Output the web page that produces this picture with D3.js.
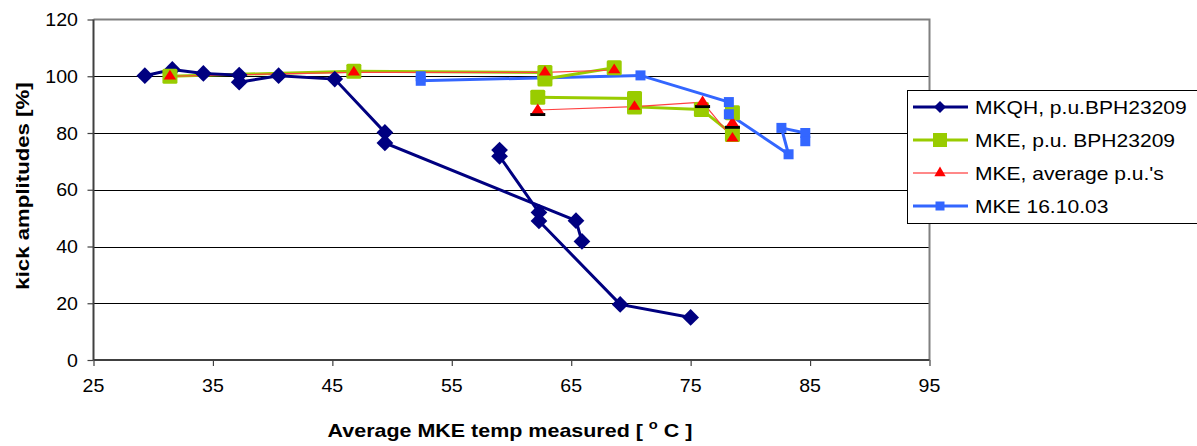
<!DOCTYPE html>
<html><head><meta charset="utf-8">
<script src="https://cdn.jsdelivr.net/npm/d3@7"></script>
<style>html,body{margin:0;padding:0;background:#fff;}svg{display:block;}</style>
</head><body>
<svg id="chart" width="1197" height="446"></svg>
<script>
// ---- data ----
const xTicks = [25, 35, 45, 55, 65, 75, 85, 95];
const yTicks = [0, 20, 40, 60, 80, 100, 120];

const mkqhX = [29.3, 31.6, 34.2, 37.2, 37.2, 40.5, 45.2, 49.4, 49.4, 65.4, 65.9, null, 59.0, 59.0, 62.3, 62.3, 69.1, 75.0];
const mkqhY = [100.2, 102.4, 101.0, 100.4, 97.9, 100.2, 99.0, 80.2, 76.5, 49.1, 41.8, null, 74.0, 71.8, 52.0, 49.0, 19.6, 15.0];

const mkePuX = [31.4, 46.8, 62.8, 62.8, 68.6, null, 62.2, 70.3, 70.3, 75.9, 78.5, 78.5];
const mkePuY = [100.0, 101.8, 101.3, 99.0, 103.0, null, 92.6, 92.2, 89.2, 88.3, 79.5, 87.1];

const mkeAvgX = [31.4, 46.8, 62.8, 68.6, null, 62.2, 70.3, 76.0, 78.5, 78.5];
const mkeAvgY = [100.0, 101.4, 101.4, 102.2, null, 88.1, 89.3, 90.9, 78.1, 83.6];

const mkeOctX = [52.4, 52.4, 70.8, 78.2, 78.2, 83.2, 82.6, 84.6, 84.6];
const mkeOctY = [100.0, 98.4, 100.3, 90.9, 86.6, 72.5, 81.8, 80.0, 77.1];

// dark marks showing beneath some triangles
const darkX = [62.2, 76.0, 78.5];
const darkY = [88.1, 90.9, 83.6];

const seriesNames = ["MKQH, p.u.BPH23209", "MKE, p.u. BPH23209", "MKE, average p.u.'s", "MKE 16.10.03"];

// ---- layout ----
const svg = d3.select("#chart");
const x = d3.scaleLinear().domain([25, 95]).range([93.5, 929.5]);
const y = d3.scaleLinear().domain([0, 120]).range([360, 19.5]);
const FONT = "'Liberation Sans', Arial, sans-serif";

function stretchedText(g, tx, ty, str, opts) {
  const t = g.append("text")
    .attr("transform", `translate(${tx},${ty})` + (opts.rot ? ` rotate(${opts.rot})` : "") + ` scale(${opts.sx || 1.12},1)`)
    .attr("font-family", FONT)
    .attr("font-size", opts.size || 17.5)
    .attr("font-weight", opts.bold ? "bold" : "normal")
    .attr("text-anchor", opts.anchor || "start")
    .attr("fill", "#000")
    .text(str);
  return t;
}

// square diamond symbol
const squareDiamond = {
  draw(ctx, size) {
    const r = Math.sqrt(size / 2);
    ctx.moveTo(0, -r); ctx.lineTo(r, 0); ctx.lineTo(0, r); ctx.lineTo(-r, 0); ctx.closePath();
  }
};

// plot area background
svg.append("rect").attr("x", x(25)).attr("y", y(120)).attr("width", x(95) - x(25)).attr("height", y(0) - y(120)).attr("fill", "#fff");

// gridlines
svg.append("g").selectAll("line").data(yTicks.filter(d => d > 0 && d < 120)).join("line")
  .attr("x1", x(25)).attr("x2", x(95))
  .attr("y1", d => Math.round(y(d)) + 0.5).attr("y2", d => Math.round(y(d)) + 0.5)
  .attr("stroke", "#000").attr("stroke-width", 1);

// top and right border
svg.append("path")
  .attr("d", `M${x(25)},${y(120)}H${x(95)}V${y(0)}`)
  .attr("fill", "none").attr("stroke", "#808080").attr("stroke-width", 2);

// axes
const xAxis = d3.axisBottom(x).tickValues(xTicks).tickSize(6).tickFormat("");
const yAxis = d3.axisLeft(y).tickValues(yTicks).tickSize(6).tickFormat("");
const gx = svg.append("g").attr("transform", `translate(0,${y(0)})`).call(xAxis);
const gy = svg.append("g").attr("transform", `translate(${x(25)},0)`).call(yAxis);
[gx, gy].forEach(g => {
  g.select(".domain").attr("stroke", "#404040").attr("stroke-width", 2);
  g.selectAll(".tick line").attr("stroke", "#404040").attr("stroke-width", 1.2);
});
gy.select(".domain").attr("d", `M0,${y(120)}V${y(0)}`);
gx.select(".domain").attr("d", `M${x(25)},0H${x(95)}`);

// tick labels
const labels = svg.append("g");
xTicks.forEach(v => stretchedText(labels, x(v), 392, String(v), {anchor: "middle"}));
yTicks.forEach(v => stretchedText(labels, 78, y(v) + 6.5, String(v), {anchor: "end"}));

// axis titles
const xt = stretchedText(labels, 510, 437, "", {anchor: "middle", bold: true, size: 19, sx: 1.13});
xt.append("tspan").text("Average MKE temp measured [ ");
xt.append("tspan").attr("font-size", 13).attr("dy", -8).text("o");
xt.append("tspan").attr("dy", 8).text(" C ]");
stretchedText(labels, 29, 186, "kick amplitudes [%]", {anchor: "middle", bold: true, size: 19, sx: 1.17, rot: -90});

// ---- series ----
function pts(xs, ys) { return xs.map((v, i) => ({x: v, y: ys[i]})); }
const lineGen = d3.line().defined(d => d.x != null && d.y != null).x(d => x(d.x)).y(d => y(d.y));

const plot = svg.append("g");
const diamond = d3.symbol().type(squareDiamond).size(140);
const triangle = d3.symbol().type(d3.symbolTriangle).size(60);

const s1 = pts(mkqhX, mkqhY);
const s2 = pts(mkePuX, mkePuY);
const s3 = pts(mkeAvgX, mkeAvgY);
const s4 = pts(mkeOctX, mkeOctY);

plot.append("path").datum(s4).attr("d", lineGen).attr("fill", "none").attr("stroke", "#3366FF").attr("stroke-width", 3);
plot.append("path").datum(s2).attr("d", lineGen).attr("fill", "none").attr("stroke", "#99CC00").attr("stroke-width", 3);
plot.append("path").datum(s3).attr("d", lineGen).attr("fill", "none").attr("stroke", "#FF4040").attr("stroke-width", 1.2);
plot.append("path").datum(s1).attr("d", lineGen).attr("fill", "none").attr("stroke", "#000080").attr("stroke-width", 3);

const def = d => d.x != null && d.y != null;
plot.append("g").selectAll("path").data(s1.filter(def)).join("path")
  .attr("transform", d => `translate(${x(d.x)},${y(d.y)})`).attr("d", diamond).attr("fill", "#000080");
plot.append("g").selectAll("rect").data(s2.filter(def)).join("rect")
  .attr("x", d => x(d.x) - 7.5).attr("y", d => y(d.y) - 7.5).attr("width", 15).attr("height", 15)
  .attr("rx", 1.5).attr("fill", "#99CC00");
plot.append("g").selectAll("rect").data(pts(darkX, darkY)).join("rect")
  .attr("x", d => x(d.x) - 7.5).attr("y", d => y(d.y) + 3).attr("width", 15).attr("height", 3).attr("fill", "#000");
plot.append("g").selectAll("path").data(s3.filter(def)).join("path")
  .attr("transform", d => `translate(${x(d.x)},${y(d.y)}) scale(1.05,0.95)`).attr("d", triangle).attr("fill", "#FF0000");
plot.append("g").selectAll("rect").data(s4.filter(def)).join("rect")
  .attr("x", d => x(d.x) - 5).attr("y", d => y(d.y) - 5).attr("width", 10).attr("height", 10).attr("fill", "#3366FF");

// ---- legend ----
const leg = svg.append("g");
leg.append("rect").attr("x", 907.5).attr("y", 90.5).attr("width", 300).attr("height", 133)
  .attr("fill", "#fff").attr("stroke", "#000").attr("stroke-width", 1);
const legColors = ["#000080", "#99CC00", "#FF6060", "#3366FF"];
const legWidths = [3, 3, 1.5, 3];
seriesNames.forEach((name, i) => {
  const cy = 107 + i * 33;
  leg.append("line").attr("x1", 913).attr("x2", 968).attr("y1", cy).attr("y2", cy)
    .attr("stroke", legColors[i]).attr("stroke-width", legWidths[i]);
  if (i === 0) leg.append("path").attr("transform", `translate(940,${cy})`).attr("d", d3.symbol().type(squareDiamond).size(72)).attr("fill", "#000080");
  if (i === 1) leg.append("rect").attr("x", 933).attr("y", cy - 7).attr("width", 14).attr("height", 14).attr("fill", "#99CC00");
  if (i === 2) leg.append("path").attr("transform", `translate(940,${cy})`).attr("d", d3.symbol().type(d3.symbolTriangle).size(55)).attr("fill", "#FF0000");
  if (i === 3) leg.append("rect").attr("x", 935.5).attr("y", cy - 4.5).attr("width", 9).attr("height", 9).attr("fill", "#3366FF");
  stretchedText(leg, 975, cy + 6.5, name, {size: 18, sx: 1.17});
});
</script>
</body></html>
